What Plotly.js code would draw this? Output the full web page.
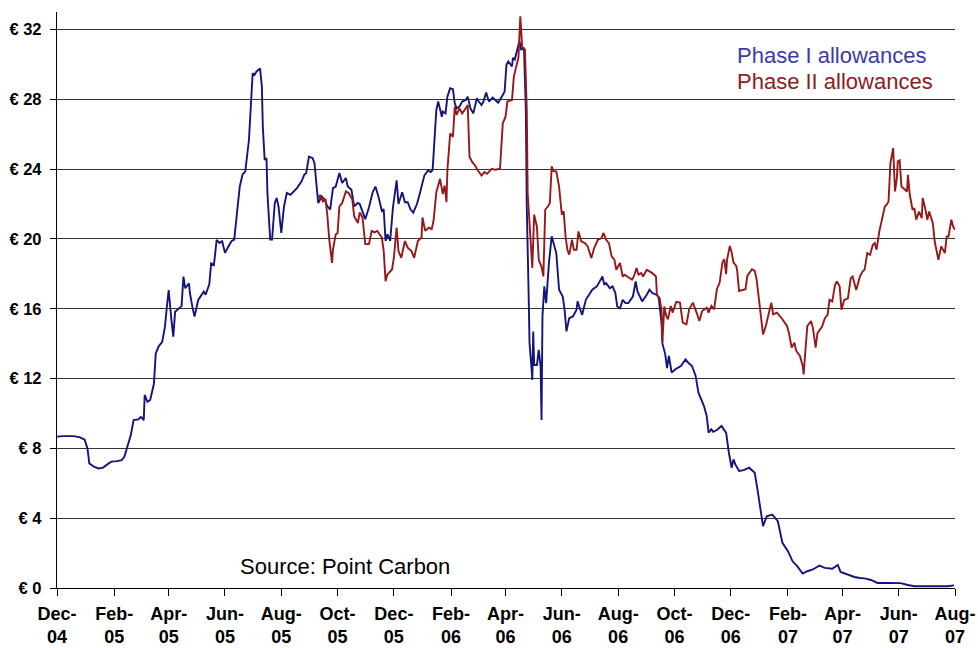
<!DOCTYPE html>
<html>
<head>
<meta charset="utf-8">
<script src="https://cdn.plot.ly/plotly-3.0.1.min.js"></script>
<style>
  html, body { margin: 0; padding: 0; background: #ffffff; }
  #chart { width: 978px; height: 648px; }
</style>
</head>
<body>
<div id="chart"></div>
<script>
// ---- Data ----
const phase1Dates = [
"2004-12-01","2004-12-08","2004-12-19","2004-12-26","2004-12-31","2005-01-03","2005-01-05","2005-01-10","2005-01-15","2005-01-20",
"2005-01-26","2005-01-29","2005-02-04","2005-02-09","2005-02-12","2005-02-15","2005-02-19","2005-02-22","2005-02-27","2005-03-02",
"2005-03-05","2005-03-06","2005-03-09","2005-03-12","2005-03-16","2005-03-18","2005-03-21","2005-03-25","2005-03-28","2005-03-30",
"2005-04-01","2005-04-04","2005-04-06","2005-04-08","2005-04-13","2005-04-15","2005-04-17","2005-04-19","2005-04-23","2005-04-24",
"2005-04-27","2005-04-29","2005-05-03","2005-05-09","2005-05-11","2005-05-15","2005-05-17","2005-05-20","2005-05-23","2005-05-26",
"2005-05-29","2005-06-01","2005-06-04","2005-06-08","2005-06-11","2005-06-14","2005-06-17","2005-06-20","2005-06-23","2005-06-27",
"2005-06-30","2005-07-01","2005-07-03","2005-07-05","2005-07-09","2005-07-11","2005-07-12","2005-07-14","2005-07-16","2005-07-17",
"2005-07-20","2005-07-22","2005-07-25","2005-07-27","2005-07-29","2005-08-01","2005-08-04","2005-08-07","2005-08-11","2005-08-14",
"2005-08-18","2005-08-23","2005-08-26","2005-08-28","2005-08-31","2005-09-04","2005-09-06","2005-09-08","2005-09-10","2005-09-14",
"2005-09-17","2005-09-20","2005-09-23","2005-09-26","2005-09-29","2005-10-01","2005-10-03","2005-10-06","2005-10-10","2005-10-12",
"2005-10-16","2005-10-19","2005-10-23","2005-10-25","2005-10-28","2005-10-31","2005-11-04","2005-11-08","2005-11-11","2005-11-14",
"2005-11-18","2005-11-20","2005-11-22","2005-11-24","2005-11-27","2005-11-30","2005-12-04","2005-12-06","2005-12-10","2005-12-13",
"2005-12-16","2005-12-19","2005-12-22","2005-12-26","2005-12-29","2006-01-01","2006-01-03","2006-01-07","2006-01-10","2006-01-12",
"2006-01-14","2006-01-16","2006-01-18","2006-01-22","2006-01-23","2006-01-26","2006-01-28","2006-01-31","2006-02-03","2006-02-05",
"2006-02-07","2006-02-10","2006-02-13","2006-02-17","2006-02-19","2006-02-22","2006-02-25","2006-03-01","2006-03-03","2006-03-06",
"2006-03-08","2006-03-11","2006-03-14","2006-03-18","2006-03-21","2006-03-24","2006-03-29","2006-03-31","2006-04-02","2006-04-04",
"2006-04-08","2006-04-09","2006-04-11","2006-04-13","2006-04-16","2006-04-18","2006-04-21","2006-04-23","2006-04-24","2006-04-26",
"2006-04-27","2006-04-29","2006-04-30","2006-05-01","2006-05-02","2006-05-05","2006-05-07","2006-05-09","2006-05-10","2006-05-11",
"2006-05-13","2006-05-15","2006-05-18","2006-05-21","2006-05-23","2006-05-26","2006-05-29","2006-06-02","2006-06-04","2006-06-06",
"2006-06-09","2006-06-13","2006-06-17","2006-06-18","2006-06-21","2006-06-23","2006-06-27","2006-07-01","2006-07-04","2006-07-09",
"2006-07-12","2006-07-15","2006-07-17","2006-07-19","2006-07-23","2006-07-26","2006-07-29","2006-07-31","2006-08-03","2006-08-06",
"2006-08-09","2006-08-12","2006-08-17","2006-08-20","2006-08-22","2006-08-25","2006-08-27","2006-09-01","2006-09-04","2006-09-07",
"2006-09-12","2006-09-14","2006-09-17","2006-09-18","2006-09-21","2006-09-23","2006-09-25","2006-09-28","2006-10-02","2006-10-08",
"2006-10-13","2006-10-16","2006-10-20","2006-10-24","2006-10-27","2006-11-02","2006-11-05","2006-11-07","2006-11-10","2006-11-12",
"2006-11-16","2006-11-21","2006-11-26","2006-11-29","2006-12-02","2006-12-04","2006-12-06","2006-12-10","2006-12-15","2006-12-21",
"2006-12-27","2006-12-30","2007-01-01","2007-01-05","2007-01-09","2007-01-15","2007-01-21","2007-01-26","2007-02-01","2007-02-06",
"2007-02-11","2007-02-17","2007-02-22","2007-02-28","2007-03-07","2007-03-13","2007-03-21","2007-03-27","2007-03-30","2007-04-07",
"2007-04-14","2007-04-20","2007-04-25","2007-05-02","2007-05-09","2007-05-20","2007-06-03","2007-06-11","2007-06-18","2007-07-06",
"2007-07-24","2007-07-31"
];
const phase1Prices = [
8.67,8.70,8.70,8.63,8.50,8.00,7.14,6.95,6.85,6.90,
7.14,7.24,7.27,7.33,7.52,8.10,8.76,9.62,9.66,9.80,
9.62,11.06,10.67,10.77,11.70,13.44,13.83,14.10,14.97,16.10,
17.07,15.35,14.40,15.83,16.10,16.15,17.84,17.17,17.46,16.90,
16.02,15.55,16.50,16.98,16.80,17.40,18.60,18.50,19.94,19.77,
19.87,19.20,19.49,19.87,19.96,21.68,23.00,23.68,23.87,25.68,
28.72,29.49,29.39,29.58,29.77,28.72,26.44,24.53,24.63,22.63,
19.96,19.96,22.06,22.34,21.87,20.34,21.87,22.63,22.53,22.72,
22.91,23.30,23.68,23.77,24.72,24.63,24.34,23.20,22.06,22.44,
22.25,21.87,21.68,22.91,23.00,23.39,23.77,23.20,23.49,23.00,
22.82,21.87,22.06,22.00,21.60,21.13,21.80,22.67,23.00,22.48,
21.60,21.70,19.88,20.27,19.88,21.80,23.35,22.00,22.67,22.10,
22.10,21.70,21.50,22.00,22.58,23.25,23.63,23.92,23.83,23.96,
25.46,27.38,27.87,27.00,27.29,27.19,28.15,28.63,28.58,27.77,
27.48,27.58,27.87,27.96,28.15,27.48,27.19,28.06,27.87,27.67,
27.87,28.38,27.87,28.10,27.96,27.80,28.25,28.44,29.98,30.17,
29.88,30.37,30.28,30.76,31.33,30.85,30.90,27.41,21.87,16.90,
14.03,12.69,11.92,14.70,12.78,12.78,13.64,12.69,9.63,15.56,
17.28,16.32,18.62,20.15,19.76,19.19,17.09,16.70,15.94,14.70,
15.46,15.56,15.94,16.42,15.94,15.65,16.51,16.80,17.09,17.28,
17.56,17.85,17.37,17.47,17.18,17.28,16.90,16.13,16.03,16.51,
16.32,16.32,16.70,17.56,16.99,16.70,16.42,16.80,17.09,16.90,
16.80,16.61,15.17,14.00,13.40,12.60,13.30,12.34,12.53,12.72,
13.10,12.90,12.72,12.15,11.19,10.42,9.85,8.90,9.09,8.95,
9.05,9.28,8.90,7.75,6.89,7.37,7.08,6.70,6.75,6.89,
6.60,5.64,4.88,3.54,4.11,4.21,3.83,2.59,2.11,1.53,
1.25,0.83,0.96,1.06,1.28,1.15,1.10,1.32,0.92,0.75,
0.63,0.57,0.55,0.46,0.29,0.29,0.28,0.17,0.10,0.10,
0.10,0.15
];

const phase2Dates = [
"2005-09-10","2005-09-12","2005-09-15","2005-09-18","2005-09-20","2005-09-22","2005-09-25","2005-09-26","2005-09-29","2005-10-01",
"2005-10-03","2005-10-06","2005-10-10","2005-10-13","2005-10-17","2005-10-19","2005-10-23","2005-10-25","2005-10-28","2005-10-31",
"2005-11-04","2005-11-07","2005-11-10","2005-11-13","2005-11-18","2005-11-20","2005-11-22","2005-11-24","2005-11-29","2005-12-01",
"2005-12-04","2005-12-06","2005-12-09","2005-12-13","2005-12-16","2005-12-20","2005-12-23","2005-12-27","2005-12-31","2006-01-01",
"2006-01-04","2006-01-08","2006-01-11","2006-01-13","2006-01-16","2006-01-20","2006-01-23","2006-01-25","2006-01-27","2006-01-28",
"2006-01-31","2006-02-03","2006-02-05","2006-02-07","2006-02-10","2006-02-13","2006-02-17","2006-02-19","2006-02-21","2006-02-24",
"2006-02-27","2006-03-02","2006-03-06","2006-03-09","2006-03-12","2006-03-17","2006-03-21","2006-03-26","2006-03-29","2006-04-01",
"2006-04-03","2006-04-08","2006-04-10","2006-04-13","2006-04-15","2006-04-17","2006-04-18","2006-04-19","2006-04-22","2006-04-24",
"2006-04-25","2006-04-26","2006-04-28","2006-04-30","2006-05-02","2006-05-05","2006-05-07","2006-05-10","2006-05-12","2006-05-14",
"2006-05-17","2006-05-19","2006-05-21","2006-05-23","2006-05-26","2006-05-29","2006-06-01","2006-06-03","2006-06-05","2006-06-07",
"2006-06-09","2006-06-12","2006-06-14","2006-06-17","2006-06-19","2006-06-22","2006-06-26","2006-06-29","2006-07-03","2006-07-06",
"2006-07-10","2006-07-14","2006-07-16","2006-07-19","2006-07-22","2006-07-25","2006-07-28","2006-07-30","2006-08-03","2006-08-06",
"2006-08-08","2006-08-11","2006-08-16","2006-08-18","2006-08-21","2006-08-23","2006-08-26","2006-08-28","2006-09-01","2006-09-04",
"2006-09-07","2006-09-11","2006-09-12","2006-09-15","2006-09-17","2006-09-18","2006-09-20","2006-09-22","2006-09-24","2006-09-27",
"2006-09-29","2006-10-03","2006-10-07","2006-10-10","2006-10-14","2006-10-17","2006-10-21","2006-10-25","2006-10-28","2006-10-31",
"2006-11-05","2006-11-07","2006-11-10","2006-11-13","2006-11-16","2006-11-19","2006-11-22","2006-11-24","2006-11-26","2006-11-27",
"2006-11-30","2006-12-02","2006-12-04","2006-12-07","2006-12-08","2006-12-10","2006-12-14","2006-12-17","2006-12-19","2006-12-24",
"2006-12-27","2006-12-29","2007-01-01","2007-01-05","2007-01-08","2007-01-11","2007-01-14","2007-01-16","2007-01-20","2007-01-23",
"2007-01-26","2007-01-31","2007-02-02","2007-02-05","2007-02-08","2007-02-10","2007-02-14","2007-02-17","2007-02-18","2007-02-20",
"2007-02-22","2007-02-26","2007-02-28","2007-03-03","2007-03-05","2007-03-10","2007-03-13","2007-03-16","2007-03-18","2007-03-21",
"2007-03-24","2007-03-26","2007-03-29","2007-03-31","2007-04-03","2007-04-07","2007-04-10","2007-04-12","2007-04-16","2007-04-20",
"2007-04-23","2007-04-25","2007-04-28","2007-05-01","2007-05-04","2007-05-06","2007-05-08","2007-05-11","2007-05-15","2007-05-17",
"2007-05-19","2007-05-21","2007-05-23","2007-05-25","2007-05-26","2007-05-28","2007-05-30","2007-05-31","2007-06-02","2007-06-04",
"2007-06-06","2007-06-10","2007-06-11","2007-06-13","2007-06-16","2007-06-18","2007-06-20","2007-06-23","2007-06-26","2007-06-27",
"2007-06-30","2007-07-02","2007-07-04","2007-07-08","2007-07-10","2007-07-12","2007-07-14","2007-07-17","2007-07-21","2007-07-23",
"2007-07-25","2007-07-28","2007-07-30","2007-08-01"
];
const phase2Prices = [
22.25,22.53,22.15,22.25,21.30,19.96,18.63,19.40,20.25,20.34,
21.87,22.06,22.72,22.63,22.25,21.30,20.91,21.52,21.23,19.70,
19.70,20.46,20.37,20.46,20.08,19.30,17.58,17.96,18.25,18.92,
20.65,19.30,18.92,19.88,19.50,19.30,18.92,19.88,20.08,21.23,
20.46,20.65,20.56,21.04,22.67,23.44,22.58,23.06,22.10,23.92,
26.04,25.85,27.58,27.10,27.48,27.19,27.48,27.67,24.69,24.40,
24.21,23.92,23.63,23.83,23.73,24.02,23.96,24.02,26.62,27.00,
27.87,27.96,29.30,29.88,30.40,32.76,31.60,31.00,30.85,27.40,
22.60,21.70,20.15,18.33,21.39,20.70,18.80,18.40,17.85,21.67,
21.87,22.06,24.16,23.87,23.87,23.00,21.39,21.58,20.15,19.38,
19.10,19.95,19.38,19.38,20.43,19.86,19.76,19.57,18.90,19.48,
19.95,20.05,20.34,19.95,19.76,19.00,18.80,18.23,18.62,17.85,
17.95,17.85,17.66,17.85,18.33,17.95,18.04,17.85,18.23,18.14,
18.04,17.85,16.80,16.60,15.90,14.10,16.13,15.60,15.40,16.16,
15.78,16.39,16.35,15.20,15.10,15.97,16.35,15.78,15.30,15.87,
16.06,15.78,16.16,15.97,17.12,17.50,18.65,18.84,17.98,18.80,
19.60,19.22,18.65,18.45,18.17,17.02,17.10,17.12,17.88,18.26,
18.17,17.69,16.35,14.53,15.01,15.78,16.35,15.68,15.78,15.59,
15.40,15.01,14.63,13.77,14.06,13.58,13.29,12.72,12.24,13.67,
15.01,15.30,14.92,13.77,14.60,14.98,15.46,15.65,16.51,16.42,
17.37,17.56,17.28,15.94,16.51,16.60,17.75,17.85,17.08,17.85,
18.14,18.23,19.19,19.09,19.66,19.76,19.38,20.43,21.48,21.86,
21.96,22.15,24.34,24.82,25.20,22.72,23.48,24.44,24.50,23.00,
22.91,22.72,23.67,22.53,21.67,21.76,21.10,21.57,21.19,22.34,
21.67,21.10,21.57,20.90,19.85,19.38,18.80,19.57,19.19,20.14,
20.14,21.10,20.71,20.52
];

const xTickDates = ["2004-12-01","2005-02-01","2005-04-01","2005-06-01","2005-08-01","2005-10-01","2005-12-01",
  "2006-02-01","2006-04-01","2006-06-01","2006-08-01","2006-10-01","2006-12-01",
  "2007-02-01","2007-04-01","2007-06-01","2007-08-01"];
const xTickLabels = ["Dec-<br>04","Feb-<br>05","Apr-<br>05","Jun-<br>05","Aug-<br>05","Oct-<br>05","Dec-<br>05",
  "Feb-<br>06","Apr-<br>06","Jun-<br>06","Aug-<br>06","Oct-<br>06","Dec-<br>06",
  "Feb-<br>07","Apr-<br>07","Jun-<br>07","Aug-<br>07"];
const yTickValues = [0, 4, 8, 12, 16, 20, 24, 28, 32];
const yTickLabels = ["€ 0","€ 4","€ 8","€ 12","€ 16","€ 20","€ 24","€ 28","€ 32"];

const seriesNames = ["Phase I allowances", "Phase II allowances"];
const sourceText = "Source: Point Carbon";

// ---- Styling ----
const blueLine = "#14147f";
const redLine = "#971818";
const blueText = "#3b3ba6";
const redText = "#8e1c1c";
const fontFamily = "'Liberation Sans', Arial, sans-serif";

const traces = [
  { x: phase1Dates, y: phase1Prices, type: "scatter", mode: "lines", name: seriesNames[0],
    line: { color: blueLine, width: 1.9 }, hoverinfo: "x+y" },
  { x: phase2Dates, y: phase2Prices, type: "scatter", mode: "lines", name: seriesNames[1],
    line: { color: redLine, width: 1.9 }, hoverinfo: "x+y" }
];

const layout = {
  width: 978, height: 648,
  margin: { l: 57, r: 23, t: 12, b: 60, pad: 0 },
  paper_bgcolor: "#ffffff", plot_bgcolor: "#ffffff",
  showlegend: false,
  font: { family: fontFamily, color: "#000000" },
  xaxis: {
    type: "date",
    range: ["2004-12-01", "2007-08-01"],
    tickmode: "array", tickvals: xTickDates, ticktext: xTickLabels,
    ticks: "outside", ticklen: 7, tickcolor: "#000000", tickwidth: 1,
    ticklabelstandoff: 2,
    showline: true, linecolor: "#000000", linewidth: 1.2,
    showgrid: false, zeroline: false,
    tickfont: { family: fontFamily, size: 18, color: "#000000", weight: "bold" },
    fixedrange: true
  },
  yaxis: {
    range: [0, 33],
    tickmode: "array", tickvals: yTickValues, ticktext: yTickLabels,
    ticks: "outside", ticklen: 6, tickcolor: "#000000", tickwidth: 1,
    ticklabelstandoff: 5,
    showline: true, linecolor: "#000000", linewidth: 1.2,
    showgrid: true, gridcolor: "#333333", gridwidth: 1,
    zeroline: false,
    tickfont: { family: fontFamily, size: 16.5, color: "#000000", weight: "bold" },
    fixedrange: true
  },
  annotations: [
    { text: seriesNames[0], xref: "paper", yref: "paper", x: 0.755, y: 0.925,
      xanchor: "left", yanchor: "middle", showarrow: false,
      font: { family: fontFamily, size: 22, color: blueText } },
    { text: seriesNames[1], xref: "paper", yref: "paper", x: 0.755, y: 0.880,
      xanchor: "left", yanchor: "middle", showarrow: false,
      font: { family: fontFamily, size: 22, color: redText } },
    { text: sourceText, xref: "paper", yref: "paper", x: 0.202, y: 0.038,
      xanchor: "left", yanchor: "middle", showarrow: false,
      font: { family: fontFamily, size: 22, color: "#000000" } }
  ]
};

Plotly.newPlot("chart", traces, layout, { displayModeBar: false, staticPlot: true });
</script>
</body>
</html>
